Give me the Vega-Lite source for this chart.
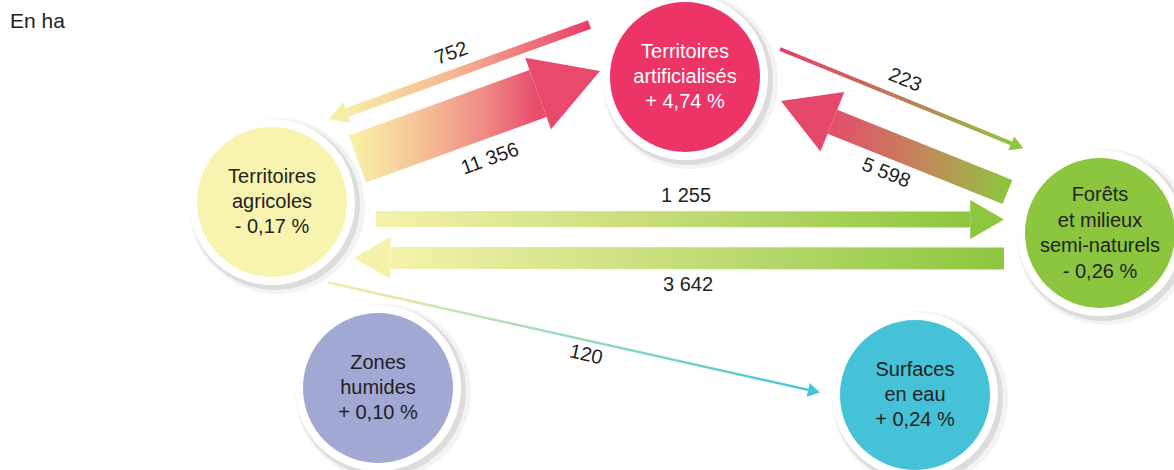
{
  "$schema": "https://vega.github.io/schema/vega-lite/v6.json",
  "width": 1174,
  "height": 470,
  "padding": 0,
  "autosize": {"type": "none"},
  "background": "white",
  "config": {"view": {"stroke": null}, "text": {"font": "Liberation Sans"}},
  "datasets": {
    "nodes": [
      {"id": "art", "label": "Territoires\nartificialisés\n+ 4,74 %", "lines": 3, "x": 685, "y": 77},
      {"id": "agr", "label": "Territoires\nagricoles\n- 0,17 %", "lines": 3, "x": 272, "y": 202},
      {"id": "for", "label": "Forêts\net milieux\nsemi-naturels\n- 0,26 %", "lines": 4, "x": 1100, "y": 233},
      {"id": "hum", "label": "Zones\nhumides\n+ 0,10 %", "lines": 3, "x": 378, "y": 388},
      {"id": "eau", "label": "Surfaces\nen eau\n+ 0,24 %", "lines": 3, "x": 915, "y": 395}
    ],
    "flows": [
      {"id": "f752", "from": "art", "to": "agr", "value": 752, "label": "752", "x": 589.5, "y": 24.5, "x2": 346.9, "y2": 112.5, "angle": 160.1, "lx": 451.5, "ly": 53.5, "la": -20},
      {"id": "f11356", "from": "agr", "to": "art", "value": 11356, "label": "11 356", "x": 357.5, "y": 159, "x2": 538.1, "y2": 93.4, "angle": -19.9, "lx": 490, "ly": 159, "la": -20},
      {"id": "f223", "from": "art", "to": "for", "value": 223, "label": "223", "x": 780, "y": 49, "x2": 1011.3, "y2": 143.4, "angle": 22.2, "lx": 905, "ly": 80, "la": 22},
      {"id": "f5598", "from": "for", "to": "art", "value": 5598, "label": "5 598", "x": 1007.5, "y": 192, "x2": 832.4, "y2": 121.7, "angle": -158.1, "lx": 886, "ly": 173, "la": 22},
      {"id": "f1255", "from": "agr", "to": "for", "value": 1255, "label": "1 255", "x": 376, "y": 219, "x2": 970.2, "y2": 219.4, "angle": 0, "lx": 686, "ly": 196, "la": 0},
      {"id": "f3642", "from": "for", "to": "agr", "value": 3642, "label": "3 642", "x": 1004, "y": 258.4, "x2": 390.4, "y2": 258, "angle": 180, "lx": 688, "ly": 285, "la": 0},
      {"id": "f120", "from": "agr", "to": "eau", "value": 120, "label": "120", "x": 328, "y": 282.5, "x2": 808.2, "y2": 389.9, "angle": 12.6, "lx": 586, "ly": 355, "la": 13}
    ],
    "notes": [
      {"text": "En ha", "x": 10, "y": 22}
    ]
  },
  "encoding": {
    "x": {"field": "x", "type": "quantitative", "axis": null, "scale": {"domain": [0, 1174], "nice": false, "zero": false}},
    "y": {"field": "y", "type": "quantitative", "axis": null, "scale": {"domain": [0, 470], "nice": false, "zero": false, "reverse": true}}
  },
  "layer": [
    {
      "data": {"name": "nodes"},
      "mark": {"type": "point", "shape": "circle", "filled": true, "opacity": 0.07, "size": 30976, "color": "#555555", "xOffset": 5, "yOffset": 4, "strokeWidth": 0}
    },
    {
      "data": {"name": "nodes"},
      "mark": {"type": "point", "shape": "circle", "filled": true, "opacity": 0.16, "size": 28900, "color": "#666666", "xOffset": 3, "yOffset": 3, "strokeWidth": 0}
    },
    {
      "data": {"name": "nodes"},
      "mark": {"type": "point", "shape": "circle", "filled": true, "opacity": 1, "size": 27556, "color": "white", "strokeWidth": 0}
    },
    {
      "data": {"name": "nodes"},
      "mark": {"type": "point", "shape": "circle", "filled": true, "opacity": 1, "size": 22500, "strokeWidth": 0},
      "encoding": {
        "fill": {"field": "id", "type": "nominal", "legend": null,
          "scale": {"domain": ["art", "agr", "for", "hum", "eau"], "range": ["#EC3466", "#F8F3AE", "#8CC63F", "#A1A8D4", "#45C2D8"]}}
      }
    },
    {
      "data": {"name": "flows"},
      "transform": [{"filter": "datum.id === 'f752'"}],
      "mark": {"type": "rule", "stroke": {"gradient": "linear", "x1": 0, "y1": 0, "x2": 1, "y2": 0, "stops": [{"offset": 0, "color": "#F8ECA6"}, {"offset": 0.45, "color": "#F4B690"}, {"offset": 1, "color": "#EA3D68"}]}},
      "encoding": {
        "x2": {"field": "x2"}, "y2": {"field": "y2"},
        "strokeWidth": {"field": "value", "type": "quantitative", "legend": null, "scale": {"type": "linear", "zero": false, "nice": false, "domain": [120, 223, 752, 1255, 3642, 5598, 11356], "range": [2.5, 4, 9, 16, 22, 26, 50]}}
      }
    },
    {
      "data": {"name": "flows"},
      "transform": [{"filter": "datum.id === 'f11356'"}],
      "mark": {"type": "rule", "stroke": {"gradient": "linear", "x1": 0, "y1": 0, "x2": 1, "y2": 0, "stops": [{"offset": 0, "color": "#F8EEA6"}, {"offset": 0.35, "color": "#F5C296"}, {"offset": 0.7, "color": "#EF8A84"}, {"offset": 1, "color": "#E94C6C"}]}},
      "encoding": {
        "x2": {"field": "x2"}, "y2": {"field": "y2"},
        "strokeWidth": {"field": "value", "type": "quantitative", "legend": null}
      }
    },
    {
      "data": {"name": "flows"},
      "transform": [{"filter": "datum.id === 'f223'"}],
      "mark": {"type": "rule", "stroke": {"gradient": "linear", "x1": 0, "y1": 0, "x2": 1, "y2": 0, "stops": [{"offset": 0, "color": "#E63E66"}, {"offset": 0.5, "color": "#C2765A"}, {"offset": 1, "color": "#8DC43F"}]}},
      "encoding": {
        "x2": {"field": "x2"}, "y2": {"field": "y2"},
        "strokeWidth": {"field": "value", "type": "quantitative", "legend": null}
      }
    },
    {
      "data": {"name": "flows"},
      "transform": [{"filter": "datum.id === 'f5598'"}],
      "mark": {"type": "rule", "stroke": {"gradient": "linear", "x1": 0, "y1": 0, "x2": 1, "y2": 0, "stops": [{"offset": 0, "color": "#E24E6B"}, {"offset": 0.5, "color": "#C4855A"}, {"offset": 1, "color": "#8EC53F"}]}},
      "encoding": {
        "x2": {"field": "x2"}, "y2": {"field": "y2"},
        "strokeWidth": {"field": "value", "type": "quantitative", "legend": null}
      }
    },
    {
      "data": {"name": "flows"},
      "transform": [{"filter": "datum.id === 'f1255' || datum.id === 'f3642'"}],
      "mark": {"type": "rule", "stroke": {"gradient": "linear", "x1": 0, "y1": 0, "x2": 1, "y2": 0, "stops": [{"offset": 0, "color": "#F6F2AC"}, {"offset": 1, "color": "#8DC63F"}]}},
      "encoding": {
        "x2": {"field": "x2"}, "y2": {"field": "y2"},
        "strokeWidth": {"field": "value", "type": "quantitative", "legend": null}
      }
    },
    {
      "data": {"name": "flows"},
      "transform": [{"filter": "datum.id === 'f120'"}],
      "mark": {"type": "rule", "stroke": {"gradient": "linear", "x1": 0, "y1": 0, "x2": 1, "y2": 0, "stops": [{"offset": 0, "color": "#F4F0A0"}, {"offset": 1, "color": "#45C3D9"}]}},
      "encoding": {
        "x2": {"field": "x2"}, "y2": {"field": "y2"},
        "strokeWidth": {"field": "value", "type": "quantitative", "legend": null}
      }
    },
    {
      "data": {"name": "flows"},
      "mark": {"type": "point", "shape": "M0,-1L1.732,0L0,1Z", "filled": true, "opacity": 1, "strokeWidth": 0},
      "encoding": {
        "x": {"field": "x2", "type": "quantitative"},
        "y": {"field": "y2", "type": "quantitative"},
        "angle": {"field": "angle", "type": "quantitative", "scale": null},
        "size": {"field": "value", "type": "quantitative", "legend": null, "scale": {"type": "linear", "zero": false, "nice": false, "domain": [120, 223, 752, 1255, 3642, 5598, 11356], "range": [196, 225, 484, 1521, 1764, 4096, 5776]}},
        "color": {"field": "id", "type": "nominal", "legend": null,
          "scale": {"domain": ["f752", "f11356", "f223", "f5598", "f1255", "f3642", "f120"], "range": ["#F7EEA6", "#E94A6B", "#8DC63F", "#E5486A", "#8DC63F", "#F6F1AA", "#45C3D9"]}}
      }
    },
    {
      "data": {"name": "nodes"},
      "transform": [{"filter": "datum.lines === 3"}],
      "mark": {"type": "text", "fontSize": 20, "lineHeight": 25, "lineBreak": "\n", "align": "center", "baseline": "middle", "dy": -25},
      "encoding": {
        "text": {"field": "label"},
        "color": {"condition": {"test": "datum.id === 'art'", "value": "white"}, "value": "#231F20"}
      }
    },
    {
      "data": {"name": "nodes"},
      "transform": [{"filter": "datum.lines === 4"}],
      "mark": {"type": "text", "fontSize": 20, "lineHeight": 25.5, "lineBreak": "\n", "align": "center", "baseline": "middle", "dy": -38, "color": "#231F20"},
      "encoding": {
        "text": {"field": "label"}
      }
    },
    {
      "data": {"name": "flows"},
      "mark": {"type": "text", "fontSize": 20, "align": "center", "baseline": "middle", "color": "#231F20"},
      "encoding": {
        "x": {"field": "lx", "type": "quantitative"},
        "y": {"field": "ly", "type": "quantitative"},
        "angle": {"field": "la", "type": "quantitative", "scale": null},
        "text": {"field": "label"}
      }
    },
    {
      "data": {"name": "notes"},
      "mark": {"type": "text", "fontSize": 21, "align": "left", "baseline": "middle", "color": "#231F20"},
      "encoding": {
        "text": {"field": "text"}
      }
    }
  ]
}
